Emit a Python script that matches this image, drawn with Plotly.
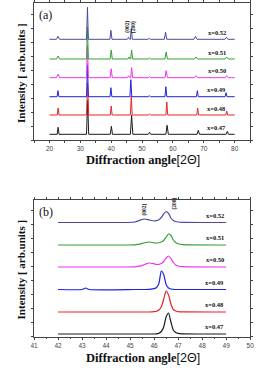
import plotly.graph_objects as go

# ---------------- data ----------------
compositions = ["x=0.47", "x=0.48", "x=0.49", "x=0.50", "x=0.51", "x=0.52"]
colors = ["#1a1a1a", "#e8232a", "#2222dd", "#ee33ee", "#33a033", "#4a4aa0"]

# panel (a): wide scan, intensity above each trace's own baseline (arb.)
a_x_047 = [20, 22.5, 22.8, 23.1, 32.0, 32.35, 32.7, 39.7, 40.05, 40.4, 46.2, 46.6, 47.0, 52.0, 52.4, 52.8, 57.7, 58.1, 58.5, 67.8, 68.2, 68.6, 77.2, 77.6, 78.0, 80]
a_y_047 = [0, 0, 7, 0, 0, 34, 0, 0, 8, 0, 0, 19, 0, 0, 2, 0, 0, 9, 0, 0, 4, 0, 0, 3, 0, 0]
a_x_048 = [20, 22.5, 22.8, 23.1, 32.0, 32.35, 32.7, 39.7, 40.0, 40.3, 46.2, 46.5, 46.8, 52.0, 52.4, 52.8, 57.7, 58.0, 58.3, 67.7, 68.0, 68.3, 77.1, 77.4, 77.7, 80]
a_y_048 = [0, 0, 7, 0, 0, 32, 0, 0, 9, 0, 0, 19, 0, 0, 1, 0, 0, 13, 0, 0, 7, 0, 0, 4, 0, 0]
a_x_049 = [20, 22.45, 22.75, 23.05, 32.0, 32.3, 32.6, 39.6, 39.9, 40.2, 46.05, 46.35, 46.65, 51.9, 52.3, 52.7, 57.4, 57.7, 58.0, 67.6, 67.9, 68.2, 76.9, 77.2, 77.5, 80]
a_y_049 = [0, 0, 6, 0, 0, 32, 0, 0, 9, 0, 0, 17, 0, 0, 1, 0, 0, 10, 0, 0, 6, 0, 0, 4, 0, 0]
a_x_050 = [20, 22.3, 22.8, 23.3, 32.0, 32.3, 32.6, 39.65, 40.0, 40.35, 45.2, 45.6, 46.0, 46.3, 46.6, 46.95, 52.0, 52.4, 52.8, 57.4, 57.8, 58.2, 67.0, 67.5, 68.0, 76.9, 77.4, 77.9, 80]
a_y_050 = [0, 0, 3.5, 0, 0, 32, 0, 0, 9, 0, 0, 2, 0, 0, 10, 0, 0, 1, 0, 0, 7, 0, 0, 2, 0, 0, 2, 0, 0]
a_x_051 = [20, 22.3, 22.8, 23.3, 32.0, 32.3, 32.6, 39.65, 40.0, 40.35, 45.4, 45.8, 46.1, 46.3, 46.6, 46.95, 52.0, 52.4, 52.8, 57.4, 57.8, 58.2, 67.0, 67.5, 68.0, 76.9, 77.4, 77.9, 80]
a_y_051 = [0, 0, 3, 0, 0, 32, 0, 0, 9, 0, 0, 2, 0, 0, 9, 0, 0, 1, 0, 0, 7, 0, 0, 2, 0, 0, 2, 0, 0]
a_x_052 = [20, 22.25, 22.75, 23.25, 32.0, 32.3, 32.6, 39.55, 39.9, 40.25, 45.2, 45.6, 46.0, 46.2, 46.5, 46.85, 51.9, 52.3, 52.7, 57.2, 57.6, 58.0, 66.8, 67.3, 67.8, 76.8, 77.3, 77.8, 80]
a_y_052 = [0, 0, 3, 0, 0, 32, 0, 0, 9, 0, 0, 2, 0, 0, 11, 0, 0, 1, 0, 0, 7, 0, 0, 3, 0, 0, 2, 0, 0]

# panel (b): zoom on the (002)/(200) region
b_x = [42.0, 43.0, 43.15, 43.3, 45.2, 45.4, 45.6, 45.8, 46.0, 46.1, 46.2, 46.3, 46.4, 46.5, 46.6, 46.7, 46.8, 46.9, 47.0, 47.2, 49.0]
b_y_047 = [0, 0, 0, 0, 0, 0, 0, 0, 0, 0.1, 0.8, 2.5, 7, 17, 21, 12, 4, 1.5, 0.6, 0.2, 0]
b_y_048 = [0, 0, 0, 0, 0, 0, 0, 0, 0.3, 0.8, 2, 5, 13, 21, 17, 8, 2.5, 1, 0.4, 0.1, 0]
b_y_049 = [0, 0, 1.5, 0, 0, 0, 0, 0.2, 0.8, 2, 6, 18.5, 15, 5, 1.5, 0.5, 0.2, 0, 0, 0, 0]
b_y_050 = [0, 0, 0, 0, 0.2, 0.8, 2.5, 4, 3.2, 2.6, 2.6, 3.5, 5.5, 9, 11, 8.5, 4.5, 2, 1, 0.3, 0]
b_y_051 = [0, 0, 0, 0, 0.2, 0.8, 2.2, 3, 2.2, 2, 2.2, 3, 4.5, 8, 11, 9.5, 5, 2.5, 1.2, 0.4, 0]
b_y_052 = [0, 0, 0, 0, 0.5, 2.2, 3.5, 2.5, 1.5, 1.8, 2.8, 5, 8.5, 11, 9, 4.5, 2, 1, 0.5, 0.2, 0]

a_series = [(a_x_047, a_y_047), (a_x_048, a_y_048), (a_x_049, a_y_049),
            (a_x_050, a_y_050), (a_x_051, a_y_051), (a_x_052, a_y_052)]
b_series = [b_y_047, b_y_048, b_y_049, b_y_050, b_y_051, b_y_052]

# vertical stacking offsets (layout)
a_offsets = [5.7, 25, 43.3, 62.3, 81, 100.7]
b_offsets = [3, 25, 47.5, 70, 92, 114.5]

fig = go.Figure()
for i, (xs, ys) in enumerate(a_series):
    fig.add_trace(go.Scatter(x=xs, y=[v + a_offsets[i] for v in ys], mode="lines",
                             line=dict(color=colors[i], width=1), xaxis="x", yaxis="y",
                             showlegend=False, hoverinfo="skip"))
for i, ys in enumerate(b_series):
    fig.add_trace(go.Scatter(x=b_x, y=[v + b_offsets[i] for v in ys], mode="lines",
                             line=dict(color=colors[i], width=1.2, shape="spline", smoothing=0.6),
                             xaxis="x2", yaxis="y2", showlegend=False, hoverinfo="skip"))

lab_font = dict(family="Liberation Serif", size=6.5, color="#111")
ann = []
for i, c in enumerate(compositions):
    ann.append(dict(x=77.8, y=a_offsets[i] + 1.5, xref="x", yref="y", text="<b>%s</b>" % c,
                    showarrow=False, xanchor="right", yanchor="bottom", font=lab_font))
    ann.append(dict(x=49.0, y=b_offsets[i] + 1.5, xref="x2", yref="y2", text="<b>%s</b>" % c,
                    showarrow=False, xanchor="right", yanchor="bottom", font=lab_font))

hkl_font = dict(family="Liberation Serif", size=5.5, color="#111")
for (xa, ya, xr, yr, t) in [(45.0, 105, "x", "y", "(002)"), (47.1, 105, "x", "y", "(200)"),
                            (45.6, 119, "x2", "y2", "(002)"), (46.85, 125, "x2", "y2", "(200)")]:
    ann.append(dict(x=xa, y=ya, xref=xr, yref=yr, text="<b>%s</b>" % t, textangle=-90,
                    showarrow=False, xanchor="center", yanchor="bottom", font=hkl_font))

ann.append(dict(x=0.132, y=0.985, xref="paper", yref="paper", text="(a)", showarrow=False,
                xanchor="left", yanchor="top", font=dict(family="Liberation Serif", size=12, color="#111")))
ann.append(dict(x=0.132, y=0.452, xref="paper", yref="paper", text="(b)", showarrow=False,
                xanchor="left", yanchor="top", font=dict(family="Liberation Serif", size=12, color="#111")))
for ypos in [0.803, 0.272]:
    ann.append(dict(x=0.068, y=ypos, xref="paper", yref="paper",
                    text="<b>Intensity [ arb.units ]</b>", textangle=-90, showarrow=False,
                    xanchor="center", yanchor="middle",
                    font=dict(family="Liberation Serif", size=11, color="#111")))
for ypos in [0.568, 0.032]:
    ann.append(dict(x=0.552, y=ypos, xref="paper", yref="paper",
                    text="<b>Diffraction angle</b><span style='font-family:Liberation Sans'>[2\u0398]</span>",
                    showarrow=False, xanchor="center", yanchor="middle",
                    font=dict(family="Liberation Serif", size=12.5, color="#111")))

ax_common = dict(showgrid=False, zeroline=False, showline=True, linecolor="#444", linewidth=1,
                 mirror="ticks", ticks="outside", ticklen=2, tickcolor="#444",
                 tickfont=dict(family="Liberation Sans", size=6.5, color="#444"))

fig.update_layout(
    width=259, height=370, margin=dict(l=0, r=0, t=0, b=0),
    paper_bgcolor="white", plot_bgcolor="white",
    xaxis=dict(domain=[0.1197, 0.9807], range=[15, 85], anchor="y", dtick=10, tick0=0,
               minor=dict(dtick=5, ticks="outside", ticklen=1.5, tickcolor="#444"), **ax_common),
    yaxis=dict(domain=[0.6216, 0.9927], range=[0, 137.3], anchor="x", dtick=14,
               showticklabels=False, **ax_common),
    xaxis2=dict(domain=[0.1197, 0.9807], range=[41, 50], anchor="y2", dtick=1,
                minor=dict(dtick=0.5, ticks="outside", ticklen=1.5, tickcolor="#444"), **ax_common),
    yaxis2=dict(domain=[0.0892, 0.4595], range=[0, 137], anchor="x2", dtick=14,
                showticklabels=False, **ax_common),
    annotations=ann,
)

fig.write_html("out.html")
